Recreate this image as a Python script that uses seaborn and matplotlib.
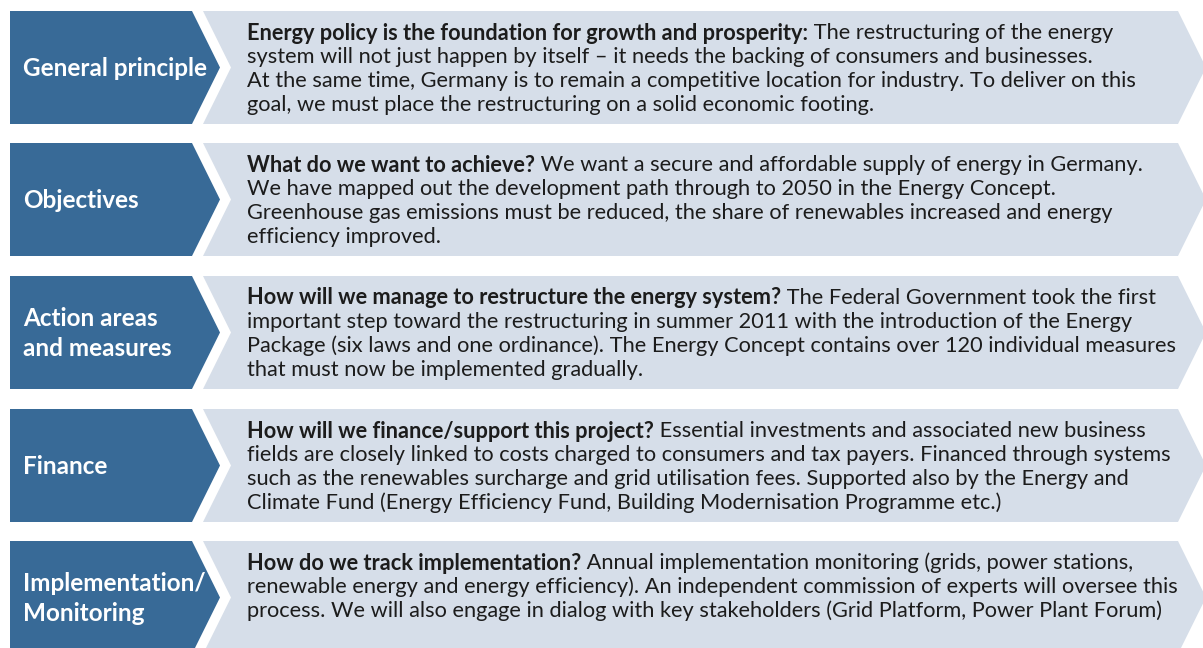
import matplotlib
matplotlib.use("Agg")
import matplotlib.pyplot as plt
from matplotlib.patches import Polygon
import seaborn as sns

W, H = 1203, 648

labels = [
    "General principle",
    "Objectives",
    "Action areas\nand measures",
    "Finance",
    "Implementation/\nMonitoring",
]
headings = [
    "Energy policy is the foundation for growth and prosperity:",
    "What do we want to achieve?",
    "How will we manage to restructure the energy system?",
    "How will we finance/support this project?",
    "How do we track implementation?",
]
bodies = [
    [" The restructuring of the energy",
     "system will not just happen by itself \u2013 it needs the backing of consumers and businesses.",
     "At the same time, Germany is to remain a competitive location for industry. To deliver on this",
     "goal, we must place the restructuring on a solid economic footing."],
    [" We want a secure and affordable supply of energy in Germany.",
     "We have mapped out the development path through to 2050 in the Energy Concept.",
     "Greenhouse gas emissions must be reduced, the share of renewables increased and energy",
     "efficiency improved."],
    [" The Federal Government took the first",
     "important step toward the restructuring in summer 2011 with the introduction of the Energy",
     "Package (six laws and one ordinance). The Energy Concept contains over 120 individual measures",
     "that must now be implemented gradually."],
    [" Essential investments and associated new business",
     "fields are closely linked to costs charged to consumers and tax payers. Financed through systems",
     "such as the renewables surcharge and grid utilisation fees. Supported also by the Energy and",
     "Climate Fund (Energy Efficiency Fund, Building Modernisation Programme etc.)"],
    [" Annual implementation monitoring (grids, power stations,",
     "renewable energy and energy efficiency). An independent commission of experts will oversee this",
     "process. We will also engage in dialog with key stakeholders (Grid Platform, Power Plant Forum)"],
]
row_tops = [11, 143, 276, 409, 541]

BLUE = "#386a97"
GREY = "#d6dee9"
TEXT = "#1c1c1c"

sns.set_theme(style="white")
plt.rcParams["font.family"] = ["Lato", "DejaVu Sans"]

fig = plt.figure(figsize=(W / 100, H / 100), dpi=100)
ax = fig.add_axes([0, 0, 1, 1])
ax.set_xlim(0, W)
ax.set_ylim(H, 0)
ax.axis("off")
renderer = fig.canvas.get_renderer()

row_h = 113
fs = 15.7
for label, head, body, top in zip(labels, headings, bodies, row_tops):
    bot = top + row_h
    mid = top + row_h / 2
    ax.add_patch(Polygon([(10, top), (192, top), (220, mid), (192, bot), (10, bot)],
                         closed=True, facecolor=BLUE, edgecolor="none"))
    ax.add_patch(Polygon([(203, top), (1178, top), (1206, mid), (1178, bot), (203, bot), (231, mid)],
                         closed=True, facecolor=GREY, edgecolor="none"))
    ax.text(23, mid + 1, label, color="white", fontsize=17.5, fontweight="bold",
            va="center", ha="left", linespacing=1.42)

    y0 = top + 22
    t = ax.text(247, y0, head, color=TEXT, fontsize=fs, fontweight="bold", va="center", ha="left")
    w = t.get_window_extent(renderer).width
    ax.text(247 + w, y0, body[0], color=TEXT, fontsize=fs, va="center", ha="left")
    for i, line in enumerate(body[1:], start=1):
        ax.text(247, y0 + i * 24, line, color=TEXT, fontsize=fs, va="center", ha="left")

fig.savefig("out.png", dpi=100)
